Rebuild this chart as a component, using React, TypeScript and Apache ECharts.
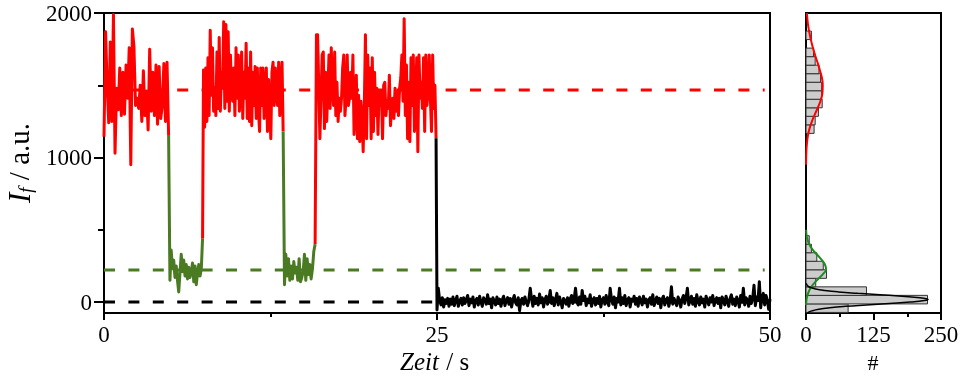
import React, { useEffect, useRef } from 'react';
import * as echarts from 'echarts';

const FONT = '"Liberation Serif", "Times New Roman", serif';

// State levels (dashed reference lines)
const levelHigh = 1467;
const levelLow = 221;
const levelZero = 0;
const levelLineEnd = 49.6;

// Trace segments: [start time, end time] and intensity values (a.u.)
const red1Span = [0, 4.85];
const red1 = [1144, 1870, 1500, 1240, 1800, 1250, 1990, 1030, 1480, 1330, 1620, 1290, 1590, 1300, 1640, 1410, 1760, 950, 1890, 1770, 1360, 1410, 1340, 1500, 1250, 1600, 1290, 1460, 1190, 1750, 1320, 1590, 1290, 1640, 1230, 1630, 1270, 1360, 1650, 1250, 1660, 1156];

const green1Span = [4.95, 7.4];
const green1 = [150, 360, 230, 290, 170, 250, 150, 70, 200, 330, 210, 290, 180, 260, 160, 240, 170, 210, 270, 140, 250, 120, 200, 260, 180, 230, 440];

const red2Span = [7.47, 13.45];
const red2 = [1605, 1210, 1620, 1250, 1690, 1290, 1880, 1430, 1760, 1320, 1480, 1290, 1730, 1340, 1830, 1320, 1590, 1480, 1940, 1340, 1920, 1390, 1870, 1320, 1710, 1480, 1390, 1620, 1290, 1760, 1410, 1710, 1320, 1500, 1730, 1270, 1590, 1410, 1790, 1270, 1620, 1250, 1730, 1220, 1590, 1360, 1630, 1270, 1620, 1320, 1180, 1620, 1360, 1620, 1270, 1480, 1620, 1180, 1540, 1340, 1130, 1590, 1660, 1360, 1620, 1460, 1360, 1660, 1290, 1500, 1660, 1180];

const green2Span = [13.55, 15.85];
const green2 = [120, 330, 180, 300, 150, 250, 160, 280, 200, 240, 150, 300, 140, 170, 210, 330, 150, 300, 190, 260, 160, 230, 350, 400];

const red3Span = [15.95, 24.93];
const red3 = [1850, 1850, 1500, 1130, 1410, 1710, 1730, 1200, 1590, 1250, 1460, 1710, 1340, 1760, 1500, 1360, 1730, 1290, 1520, 1250, 1410, 1320, 1410, 1620, 1710, 1290, 1410, 1710, 1360, 1410, 1590, 1410, 1710, 1160, 1320, 1570, 1130, 1430, 1110, 1390, 1290, 1040, 1360, 1850, 1130, 1710, 1360, 1620, 1130, 1690, 1180, 1590, 1290, 1480, 1160, 1460, 1360, 1460, 1130, 1500, 1520, 1290, 1390, 1340, 1570, 1220, 1360, 1410, 1270, 1480, 1320, 1460, 1290, 1480, 1550, 1710, 1390, 1960, 1290, 1640, 1130, 1520, 1110, 1690, 1360, 1710, 1180, 1340, 1690, 1040, 1710, 1410, 1520, 1340, 1690, 1180, 1710, 1360, 1460, 1710, 1410, 1180, 1710, 1340, 1500, 1133];

const blackSpan = [25.0, 50.0];
const black = [
  -55, 95, 10, -20, 30, -35, 15, -10, 25, -30,
  20, -15, 35, -25, 10, 40, -30, 5, 25, -20,
  30, -10, 15, 45, -25, 20, -5, 35, -35, 10,
  25, -20, 40, 0, -30, 30, 15, -15, 50, -10,
  20, -40, 30, 5, -20, 35, -10, 20, -30, 15,
  40, -25, 10, 30, -15, 25, -35, 15, 45, -5,
  -20, 30, -60, 10, 25, -15, 35, 0, -25, 20,
  95, 20, -30, 40, -10, 25, -20, 55, -5, 30,
  -35, 15, 40, -15, 20, 80, -10, 30, -25, 15,
  60, -20, 35, 0, -40, 25, 10, -15, 30, -30,
  20, 45, -10, 25, 95, 0, -20, 35, -15, 80,
  10, 40, -25, 20, -5, 50, -30, 15, 30, -20,
  25, -10, 40, -35, 15, 30, -15, 45, 0, -25,
  95, 20, -15, 35, -40, 25, 10, 95, -20, 30,
  -10, 45, -25, 15, 30, -35, 20, 5, 40, -15,
  25, -30, 35, 10, -20, 40, -5, 20, -35, 15,
  30, -15, 50, -25, 5, 35, -10, 25, -40, 20,
  40, -20, 15, 30, -30, 10, 105, -15, 25, 0,
  -25, 35, 10, -35, 20, 45, -10, 30, 95, -20,
  15, 40, -15, 25, -30, 50, 5, -20, 35, -5,
  20, -35, 40, 10, -20, 30, 0, 45, -25, 15,
  30, -10, 25, -40, 35, 15, -20, 40, 5, -30,
  25, 50, -15, 20, -25, 35, 10, -35, 45, 0,
  95, -20, 30, 15, -30, 40, -10, 25, 116, -25,
  35, 10, 141, -40, 30, 60, -20, 45, 15, -50,
  20,
];

// Histogram bins (intensity range) and counts
const histBinLo = [-72, -13, 46, 105, 164, 223, 282, 341, 400, 1167, 1226, 1285, 1344, 1403, 1462, 1521, 1580, 1639, 1698, 1816];
const histBinHi = [-13, 46, 105, 164, 223, 282, 341, 400, 459, 1226, 1285, 1344, 1403, 1462, 1521, 1580, 1639, 1698, 1757, 1875];
const histCounts = [78, 225, 112, 18, 38, 32, 20, 10, 6, 15, 17, 23, 30, 29, 29, 27, 24, 17, 14, 10];

// Gaussian fit curves (intensity -> count)
const redFitV = [950, 1000, 1050, 1100, 1150, 1200, 1250, 1300, 1350, 1400, 1450, 1500, 1550, 1600, 1650, 1700, 1750, 1800, 1850, 1900, 1950, 2000];
const redFitC = [0.1, 0.3, 0.8, 1.8, 3.5, 6.5, 11, 16.5, 22.5, 27.5, 30.5, 31, 29.5, 26, 22, 17.5, 13.5, 10, 7, 4.5, 2.8, 1.6];
const greenFitV = [-20, 0, 50, 100, 150, 200, 225, 250, 300, 350, 400, 450, 500];
const greenFitC = [0.2, 0.5, 3, 9, 20, 33, 37, 36, 27, 15, 6, 1.5, 0.3];
const blackFitV = [-80, -70, -60, -50, -40, -30, -20, -10, 0, 10, 18, 30, 40, 50, 60, 70, 80, 90, 100, 110, 120, 130];
const blackFitC = [2, 5, 12, 24, 44, 73, 112, 154, 193, 219, 226, 211, 178, 137, 96, 60, 35, 18, 8.5, 3.6, 1.4, 0.5];

// Axis ticks
const yMin = -76;
const yMax = 2000;
const yTicksMajor = [0, 1000, 2000];
const yTicksMinor = [500, 1500];
const xTicksMajor = [0, 25, 50];
const xTicksMinor = [12.5, 37.5];
const hTicksMajor = [0, 125, 250];
const hTicksMinor = [62.5, 187.5];

// Axis titles
const xTitleItalic = 'Zeit';
const xTitleRest = ' / s';
const histTitle = '#';

const RED = '#ff0000';
const GREEN = '#4a7b22';
const FIT_GREEN = '#1f8a1f';

function seg(span: number[], vals: number[]): number[][] {
  const [a, b] = span;
  return vals.map((v, i) => [a + (i * (b - a)) / (vals.length - 1), v]);
}

export default function App() {
  const ref = useRef<HTMLDivElement>(null);
  useEffect(() => {
    if (!ref.current) return;
    const chart = echarts.init(ref.current, undefined, { renderer: 'svg' });
    const r1 = seg(red1Span, red1);
    const g1 = seg(green1Span, green1);
    const r2 = seg(red2Span, red2);
    const g2 = seg(green2Span, green2);
    const r3 = seg(red3Span, red3);
    const bk = seg(blackSpan, black);
    const last = (a: number[][]) => a[a.length - 1];

    const traceLine = (color: string, data: number[][]) => ({
      type: 'line',
      xAxisIndex: 0,
      yAxisIndex: 0,
      data,
      showSymbol: false,
      symbol: 'none',
      silent: true,
      lineStyle: { color, width: 3, join: 'round' },
      z: 3,
    });
    const dashLine = (color: string, level: number) => ({
      type: 'line',
      xAxisIndex: 0,
      yAxisIndex: 0,
      data: [[0, level], [levelLineEnd, level]],
      showSymbol: false,
      symbol: 'none',
      silent: true,
      lineStyle: { color, width: 3, type: [11, 13.4] },
      z: 2,
    });
    const fitLine = (color: string, v: number[], c: number[], width: number) => ({
      type: 'line',
      xAxisIndex: 2,
      yAxisIndex: 2,
      data: v.map((y, i) => [c[i], y]),
      smooth: true,
      showSymbol: false,
      symbol: 'none',
      silent: true,
      lineStyle: { color, width },
      z: 4,
    });

    const baseText = { fontFamily: FONT, color: '#000' };
    const axisLineStyle = { show: true, onZero: false, lineStyle: { color: '#000', width: 2 } };
    const hiddenLine = { show: false, onZero: false };
    const plain = (v: number) => String(v);

    const option: any = {
      animation: false,
      grid: [
        { left: 104, top: 13, width: 666, height: 300, show: true, borderColor: '#000', borderWidth: 2, backgroundColor: 'transparent', containLabel: false, outerBoundsMode: 'none' },
        { left: 806, top: 13, width: 135, height: 300, show: true, borderColor: '#000', borderWidth: 2, backgroundColor: 'transparent', containLabel: false, outerBoundsMode: 'none' },
      ],
      graphic: [
        {
          type: 'text', x: 400, y: 361, silent: true,
          style: { text: xTitleItalic, fontFamily: FONT, fontStyle: 'italic', fontSize: 25, fill: '#000', textAlign: 'left', textVerticalAlign: 'middle' },
        },
        {
          type: 'text', x: 440, y: 361, silent: true,
          style: { text: xTitleRest, fontFamily: FONT, fontSize: 25, fill: '#000', textAlign: 'left', textVerticalAlign: 'middle' },
        },
        {
          type: 'text', x: 873, y: 362, silent: true,
          style: { text: histTitle, fontFamily: FONT, fontSize: 22, fill: '#000', textAlign: 'center', textVerticalAlign: 'middle' },
        },
      ],
      xAxis: [
        {
          gridIndex: 0, type: 'value', min: 0, max: 50,
          axisLine: axisLineStyle,
          axisTick: { show: true, inside: false, length: 7, customValues: xTicksMajor, lineStyle: { color: '#000', width: 2 } },
          axisLabel: { customValues: xTicksMajor, formatter: plain, margin: 10, fontSize: 23, ...baseText },
          splitLine: { show: false },
        },
        {
          gridIndex: 0, type: 'value', min: 0, max: 50, position: 'bottom', offset: 0,
          axisLine: hiddenLine,
          axisTick: { show: true, inside: false, length: 4, customValues: xTicksMinor, lineStyle: { color: '#000', width: 2 } },
          axisLabel: { show: false },
          splitLine: { show: false },
        },
        {
          gridIndex: 1, type: 'value', min: 0, max: 250,
          axisLine: axisLineStyle,
          axisTick: { show: true, inside: false, length: 7, customValues: hTicksMajor, lineStyle: { color: '#000', width: 2 } },
          axisLabel: { customValues: hTicksMajor, formatter: plain, margin: 10, fontSize: 23, ...baseText },
          splitLine: { show: false },
        },
        {
          gridIndex: 1, type: 'value', min: 0, max: 250, position: 'bottom', offset: 0,
          axisLine: hiddenLine,
          axisTick: { show: true, inside: false, length: 4, customValues: hTicksMinor, lineStyle: { color: '#000', width: 2 } },
          axisLabel: { show: false },
          splitLine: { show: false },
        },
      ],
      yAxis: [
        {
          gridIndex: 0, type: 'value', min: yMin, max: yMax,
          axisLine: axisLineStyle,
          axisTick: { show: true, inside: false, length: 10, customValues: yTicksMajor, lineStyle: { color: '#000', width: 2 } },
          axisLabel: { customValues: yTicksMajor, formatter: plain, margin: 12, fontSize: 23, ...baseText },
          splitLine: { show: false },
          name: '{i|I}{s|f}{n| / a.u.}',
          nameLocation: 'middle',
          nameGap: 58,
          nameTextStyle: {
            rich: {
              i: { fontFamily: FONT, fontStyle: 'italic', fontSize: 31, color: '#000' },
              s: { fontFamily: FONT, fontStyle: 'italic', fontSize: 19, color: '#000', verticalAlign: 'bottom', padding: [13, 0, 0, 0] },
              n: { fontFamily: FONT, fontSize: 29, color: '#000' },
            },
          },
        },
        {
          gridIndex: 0, type: 'value', min: yMin, max: yMax, position: 'left', offset: 0,
          axisLine: hiddenLine,
          axisTick: { show: true, inside: false, length: 6, customValues: yTicksMinor, lineStyle: { color: '#000', width: 2 } },
          axisLabel: { show: false },
          splitLine: { show: false },
        },
        {
          gridIndex: 1, type: 'value', min: yMin, max: yMax,
          axisLine: axisLineStyle,
          axisTick: { show: false },
          axisLabel: { show: false },
          splitLine: { show: false },
        },
      ],
      series: [
        dashLine(RED, levelHigh),
        dashLine(GREEN, levelLow),
        dashLine('#000', levelZero),
        traceLine(RED, r1),
        traceLine(GREEN, [last(r1), ...g1]),
        traceLine(RED, [last(g1), ...r2]),
        traceLine(GREEN, [last(r2), ...g2]),
        traceLine(RED, [last(g2), ...r3]),
        traceLine('#000', [last(r3), ...bk]),
        {
          type: 'custom',
          xAxisIndex: 2,
          yAxisIndex: 2,
          silent: true,
          z: 3,
          data: histCounts.map((c, i) => [histBinLo[i], histBinHi[i], c]),
          encode: { x: 2, y: [0, 1] },
          renderItem: (params: any, api: any) => {
            const lo = api.value(0);
            const hi = api.value(1);
            const c = api.value(2);
            const p0 = api.coord([0, hi]);
            const p1 = api.coord([c, lo]);
            return {
              type: 'rect',
              shape: { x: p0[0], y: p0[1], width: p1[0] - p0[0], height: p1[1] - p0[1] },
              style: { fill: '#cccccc', stroke: '#333333', lineWidth: 1 },
            };
          },
        },
        fitLine(RED, redFitV, redFitC, 2),
        fitLine(FIT_GREEN, greenFitV, greenFitC, 2),
        fitLine('#000', blackFitV, blackFitC, 1.5),
      ],
    };
    chart.setOption(option);
    return () => chart.dispose();
  }, []);
  return <div ref={ref} style={{ position: 'fixed', left: 0, top: 0, width: 963, height: 376 }} />;
}
